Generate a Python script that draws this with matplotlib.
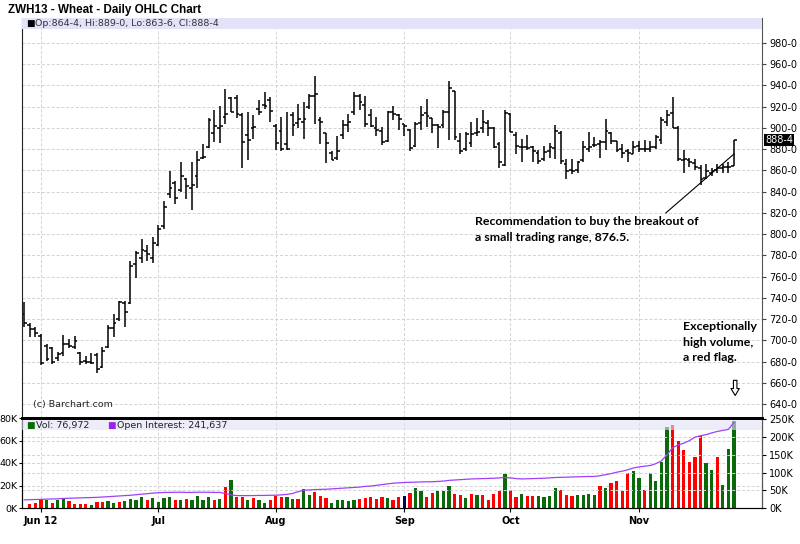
import matplotlib
matplotlib.use("Agg")
import matplotlib.pyplot as plt
import matplotlib.patches as mpatches
import numpy as np
import pandas as pd

# --- DATA ---
holidays = ['2012-07-04', '2012-09-03', '2012-11-22']
dates = pd.bdate_range('2012-05-29', '2012-11-27')
dates = dates[~dates.isin(pd.to_datetime(holidays))]

opens = [725, 714, 711, 704, 695, 693, 683, 688, 697, 694, 688, 681, 680, 686, 675, 694,
         712, 720, 735, 735, 772, 778, 784, 778, 790, 808, 838, 848, 842, 852, 843, 855,
         872, 882, 895, 900, 910, 928, 928, 912, 893, 900, 918, 922, 926, 902, 897, 885,
         912, 905, 906, 920, 930, 907, 895, 876, 872, 893, 903, 915, 930, 922, 912, 900,
         897, 888, 915, 912, 904, 898, 883, 905, 914, 909, 903, 903, 915, 935, 888, 880,
         886, 895, 900, 905, 900, 885, 865, 913, 893, 882, 882, 882, 876, 871, 878, 881,
         895, 866, 860, 860, 870, 880, 884, 885, 887, 895, 888, 880, 878, 875, 883, 880,
         880, 882, 889, 906, 914, 900, 870, 870, 867, 862, 853, 858, 860, 862, 863, 864.5]
highs = [736, 716, 713, 706, 697, 694, 689, 705, 701, 704, 689, 685, 688, 688, 694, 714,
         725, 737, 737, 775, 784, 795, 790, 797, 809, 831, 859, 850, 868, 853, 868, 878,
         885, 909, 917, 921, 937, 929, 931, 914, 915, 912, 926, 934, 929, 904, 910, 915,
         915, 923, 924, 932, 949, 910, 895, 878, 892, 907, 913, 934, 932, 930, 918, 910,
         901, 916, 921, 913, 904, 899, 906, 921, 927, 909, 904, 917, 944, 935, 895, 896,
         906, 909, 917, 907, 901, 887, 917, 914, 896, 890, 893, 883, 879, 883, 886, 903,
         897, 871, 871, 869, 888, 896, 891, 889, 908, 896, 888, 885, 880, 888, 888, 889,
         888, 893, 910, 917, 929, 902, 879, 872, 871, 865, 866, 862, 866, 866, 868, 889]
lows = [713, 703, 703, 677, 681, 678, 681, 685, 693, 692, 677, 678, 678, 669, 674, 693,
        703, 718, 713, 734, 759, 773, 775, 773, 789, 805, 834, 828, 840, 833, 823, 843,
        871, 881, 887, 886, 904, 915, 909, 862, 870, 890, 912, 918, 906, 879, 878, 879,
        892, 900, 890, 918, 904, 885, 867, 870, 870, 890, 896, 912, 917, 901, 901, 892,
        884, 887, 907, 898, 892, 878, 882, 898, 901, 895, 881, 900, 889, 889, 875, 878,
        882, 892, 895, 892, 881, 862, 864, 896, 875, 868, 879, 868, 866, 869, 872, 871,
        866, 852, 857, 858, 868, 877, 882, 872, 879, 885, 877, 872, 868, 875, 877, 877,
        877, 880, 885, 902, 900, 869, 858, 863, 860, 846, 852, 855, 858, 858, 858, 863.75]
closes = [716, 711, 707, 679, 682, 680, 687, 697, 695, 699, 680, 680, 679, 673, 690, 712,
          716, 736, 727, 770, 782, 785, 781, 792, 805, 826, 843, 834, 855, 845, 846, 870,
          873, 907, 902, 902, 913, 915, 913, 887, 889, 901, 915, 921, 916, 886, 880, 880,
          903, 908, 908, 930, 932, 906, 886, 870, 878, 903, 906, 930, 924, 904, 902, 898,
          887, 915, 913, 908, 902, 881, 904, 912, 911, 903, 901, 915, 938, 891, 878, 894,
          894, 896, 906, 900, 882, 868, 914, 896, 883, 882, 881, 878, 869, 877, 882, 897,
          869, 859, 859, 868, 882, 882, 884, 887, 897, 888, 879, 876, 876, 882, 880, 880,
          882, 891, 907, 912, 900, 871, 871, 868, 863, 852, 859, 859, 862, 863, 863, 888.5]

# volume in thousands, one value per bar from the 2nd bar on
volume = [3.3, 4.5, 7.8, 6.9, 4.5, 7.5, 8.7, 6.0, 3.3, 3.9, 3.3, 2.7, 5.1, 5.1, 6.0,
          4.5, 5.1, 6.0, 8.1, 7.5, 9.6, 7.5, 9.0, 5.4, 9.0, 9.6, 6.9, 6.9, 8.1, 7.5,
          10.4, 7.5, 9.6, 7.5, 8.1, 18.5, 24.8, 9.9, 9.9, 7.5, 9.0, 6.9, 4.2, 6.9, 10.4,
          9.9, 9.9, 8.1, 8.1, 17.0, 11.9, 14.3, 10.4, 9.0, 4.5, 6.9, 7.5, 6.0, 6.9, 8.1,
          9.0, 9.9, 8.1, 9.9, 9.0, 6.9, 9.9, 10.4, 13.7, 18.2, 14.9, 9.9, 13.7, 15.5, 15.5,
          19.4, 12.8, 11.3, 9.3, 12.2, 11.3, 11.3, 7.5, 12.8, 14.9, 29.9, 16.4, 9.9, 12.2,
          10.4, 10.4, 10.4, 9.9, 10.4, 18.2, 16.4, 11.9, 10.4, 11.3, 11.9, 12.8, 11.9,
          19.4, 17.6, 21.8, 23.9, 15.5, 31.3, 32.8, 26.9, 16.4, 30.7, 24.2, 41.2, 71.9,
          73.7, 60.0, 51.6, 40.9, 45.1, 63.6, 40.3, 33.7, 45.7, 20.3, 52.2, 76.972]
vol_dir = ['dn', 'dn', 'dn', 'up', 'dn', 'up', 'up', 'dn', 'dn', 'dn', 'dn', 'up', 'dn', 'dn', 'up',
           'up', 'dn', 'up', 'up', 'up', 'up', 'dn', 'up', 'up', 'up', 'up', 'dn', 'up', 'dn', 'up',
           'up', 'up', 'up', 'dn', 'up', 'dn', 'up', 'dn', 'dn', 'up', 'dn', 'up', 'up', 'dn', 'dn',
           'dn', 'up', 'up', 'dn', 'up', 'up', 'dn', 'dn', 'dn', 'up', 'up', 'up', 'up', 'up', 'dn',
           'dn', 'dn', 'dn', 'dn', 'up', 'dn', 'dn', 'unch', 'dn', 'up', 'up', 'dn', 'dn', 'up', 'up',
           'up', 'dn', 'dn', 'up', 'dn', 'up', 'dn', 'dn', 'dn', 'dn', 'up', 'dn', 'dn', 'up',
           'dn', 'dn', 'up', 'up', 'up', 'up', 'dn', 'dn', 'dn', 'up', 'up', 'up', 'up',
           'dn', 'up', 'dn', 'dn', 'dn', 'dn', 'up', 'up', 'dn', 'up', 'up', 'up', 'up',
           'dn', 'dn', 'dn', 'dn', 'dn', 'dn', 'up', 'up', 'dn', 'up', 'up', 'up']

# open interest in thousands, one value per bar
open_interest = [23, 23.5, 24, 24.5, 25, 25.5, 26, 27, 27.5, 28, 28.5, 29, 29.5, 30, 31, 32,
                 33, 34, 35, 36, 37.5, 39, 40.5, 42, 43, 44, 44, 44.5, 44.5, 44, 44, 44.5,
                 44.5, 44.5, 44, 44, 41, 37, 35, 35, 35, 35, 35.5, 35.5, 36, 36, 37, 38.5,
                 41, 46, 50, 51, 52, 52.5, 53, 54, 55, 56, 57, 58, 59, 61, 62, 64,
                 66, 68, 70, 71, 72, 72.5, 73, 73.5, 74, 74, 75, 76, 78, 79, 80, 81,
                 82, 82.5, 83, 83.5, 84, 85, 86, 85, 83, 82, 82.5, 83, 83.5, 84, 85, 86,
                 86.5, 87, 87.5, 88, 88.5, 89, 89, 91, 94, 97, 101, 104, 108, 113, 116, 118,
                 120, 125, 133, 150, 170, 178, 183, 190, 200, 204, 207, 212, 216, 219, 222, 241.637]

month_labels = ['Jun 12', 'Jul', 'Aug', 'Sep', 'Oct', 'Nov']
price_ticks = list(range(640, 1000, 20))
vol_ticks = [0, 20, 40, 60, 80]
oi_ticks = [0, 50, 100, 150, 200, 250]

annot_buy = "Recommendation to buy the breakout of\na small trading range, 876.5."
annot_vol = "Exceptionally\nhigh volume,\na red flag."
trend_x = [114.8, 127.0]
trend_y = [820, 875.5]


def fmt8(p):
    # barchart style eighths: 888.5 -> 888-4
    whole = int(np.floor(p))
    return f"{whole}-{int(round((p - whole) * 8))}"


x = np.arange(len(dates))
mon = pd.Series(dates.month)
month_pos = [i for i in range(len(mon)) if mon[i] >= 6 and (i == 0 or mon[i] != mon[i - 1])]

fig = plt.figure(figsize=(8, 5.44), dpi=100)
ax = fig.add_axes([22 / 800, 1 - 418 / 544, 740 / 800, 400 / 544])
axv = fig.add_axes([22 / 800, 1 - 508 / 544, 740 / 800, 90 / 544])
axo = axv.twinx()

grid_c = '#d2d2d2'
dash = (0, (3, 2))
band_c = '#e2e2f8'

# --- price panel ---
for p in price_ticks:
    ax.axhline(p, color=grid_c, lw=0.7, ls=dash, zorder=0)
for m in month_pos:
    ax.axvline(m, color=grid_c, lw=0.7, ls=dash, zorder=0)

ax.vlines(x, lows, highs, color='black', lw=1.1)
ax.hlines(opens, x - 0.5, x, color='black', lw=1.1)
ax.hlines(closes, x, x + 0.5, color='black', lw=1.1)

ax.set_xlim(-0.4, 132)
ax.set_ylim(626.9, 1003.5)
ax.yaxis.tick_right()
ax.set_yticks(price_ticks)
ax.set_yticklabels([fmt8(p) for p in price_ticks])
ax.tick_params(axis='y', labelsize=7, length=3, width=0.8, color='#444444', pad=2)
ax.set_xticks([])
ax.spines['top'].set_visible(False)
ax.spines['left'].set_color('#222222')
ax.spines['right'].set_color('#555555')
ax.spines['bottom'].set_linewidth(2)

# header band
ax.add_patch(mpatches.Rectangle((0, 0.972), 1, 0.027, transform=ax.transAxes,
                                facecolor=band_c, edgecolor='none', zorder=3))
ax.text(0.006, 0.9855, '■', transform=ax.transAxes, fontsize=6.5, va='center', color='black', zorder=4)
ax.text(0.017, 0.9855, f"Op:{fmt8(opens[-1])}, Hi:{fmt8(highs[-1])}, Lo:{fmt8(lows[-1])}, Cl:{fmt8(closes[-1])}",
        transform=ax.transAxes, fontsize=6.8, va='center', color='#333333', zorder=4)

# last price tag
ax.text(1.004, closes[-1], fmt8(closes[-1]), transform=ax.get_yaxis_transform(),
        fontsize=7, va='center', ha='left', color='white', zorder=5,
        bbox=dict(facecolor='black', edgecolor='none', pad=0.6))

ax.text(0.015, 0.033, '(c) Barchart.com', transform=ax.transAxes, fontsize=6.8, va='center', color='#222222')

# annotations
ax.plot(trend_x, trend_y, color='black', lw=0.8)
ax.text(0.612, 0.504, annot_buy, transform=ax.transAxes, fontsize=8.9, fontweight='bold',
        family='Lato', va='top', ha='left', linespacing=1.5)
ax.text(0.893, 0.242, annot_vol, transform=ax.transAxes, fontsize=8.9, fontweight='bold',
        family='Lato', va='top', ha='left', linespacing=1.5)
ax.annotate('', xy=(127.2, 645.5), xytext=(127.2, 665),
            arrowprops=dict(arrowstyle='simple,head_length=0.5,head_width=0.6,tail_width=0.25',
                            fc='white', ec='black', lw=0.8))

# --- volume panel ---
vol_colors = {'up': '#0a6a0a', 'dn': '#ff0000', 'unch': '#000066'}
for m in month_pos:
    axv.axvline(m, color=grid_c, lw=0.7, ls=dash, zorder=0)
for v in vol_ticks[1:-1]:
    axv.axhline(v, color=grid_c, lw=0.7, ls=dash, zorder=0)
axv.bar(x[1:], volume, width=0.58, color=[vol_colors[d] for d in vol_dir], zorder=2)
axv.set_xlim(-0.4, 132)
axv.set_ylim(0, 80)
axv.set_yticks(vol_ticks)
axv.set_yticklabels([f"{v}K" for v in vol_ticks])
axv.tick_params(axis='y', labelsize=6.8, length=2.5, width=0.8, pad=0.5)
axv.set_xticks(month_pos)
axv.set_xticklabels(month_labels, fontweight='bold', fontsize=7)
axv.tick_params(axis='x', length=3, width=0.8, pad=3)
axv.spines['top'].set_linewidth(2)

for v in oi_ticks[1:-1]:
    axo.axhline(v, color=grid_c, lw=0.7, ls=dash, zorder=0)
axo.plot(x, open_interest, color='#a040f8', lw=0.9, zorder=5)
axo.set_ylim(0, 254)
axo.set_yticks(oi_ticks)
axo.set_yticklabels([f"{v}K" for v in oi_ticks])
axo.tick_params(axis='y', labelsize=7, length=3, width=0.8, pad=2)
axo.spines['top'].set_linewidth(2)
axo.spines['right'].set_color('#555555')

axo.add_patch(mpatches.Rectangle((0, 0.868), 1, 0.11, transform=axo.transAxes,
                                 facecolor=band_c, edgecolor='none', alpha=0.6, zorder=4))
axo.text(0.006, 0.922, '■', transform=axo.transAxes, fontsize=6.5, va='center', color='#0a6a0a', zorder=6)
axo.text(0.019, 0.922, f"Vol: {int(round(volume[-1] * 1000)):,}", transform=axo.transAxes,
         fontsize=6.8, va='center', color='#222222', zorder=6)
axo.text(0.115, 0.922, '■', transform=axo.transAxes, fontsize=6.5, va='center', color='#a020f0', zorder=6)
axo.text(0.128, 0.922, f"Open Interest: {int(round(open_interest[-1] * 1000)):,}", transform=axo.transAxes,
         fontsize=6.8, va='center', color='#222222', zorder=6)

fig.text(8 / 800, 1 - 10 / 544, 'ZWH13 - Wheat - Daily OHLC Chart', fontsize=8.4,
         fontweight='bold', family='Liberation Sans', va='center', ha='left')

fig.savefig('out.png', dpi=100)
